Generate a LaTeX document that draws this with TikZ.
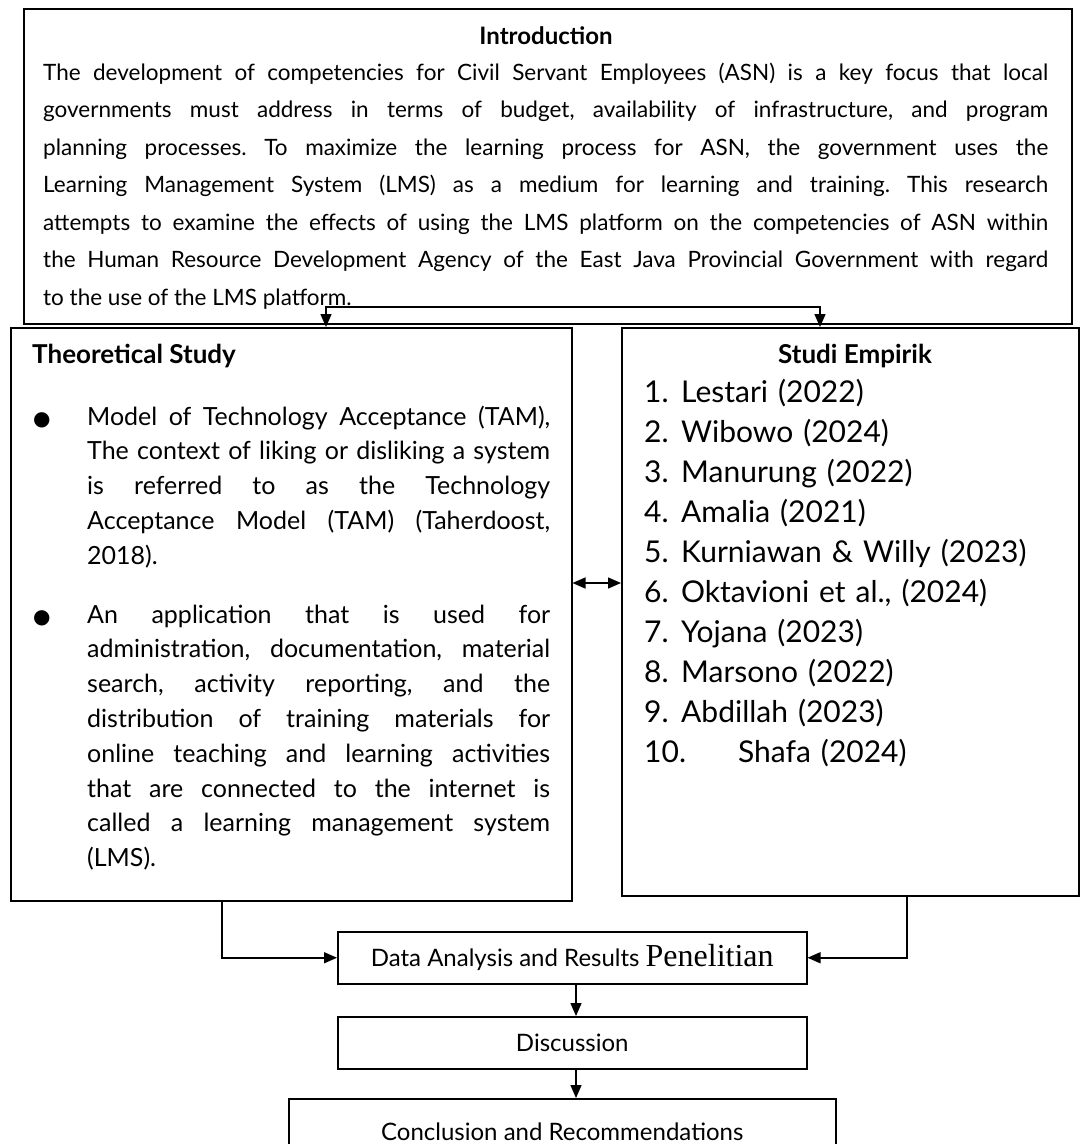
\documentclass[tikz,border=0pt]{standalone}
\usepackage{fontspec}
\setmainfont{Lato}
\newfontfamily\serifpen{Liberation Serif}
\newfontfamily\dejavu{DejaVu Sans}
\usetikzlibrary{arrows.meta}
\newcommand{\mybul}{{\dejavu\fontsize{20}{20}\selectfont ●}}
\frenchspacing
\begin{document}
\begin{tikzpicture}[x=1pt,y=-1pt,
  box/.style={draw, rectangle, line width=1.5pt, inner sep=0pt, anchor=north west},
  txt/.style={inner sep=0pt, anchor=base west},
  arr/.style={-{Triangle[length=13pt,width=11pt]}, line width=1.5pt},
  dbl/.style={{Triangle[length=13pt,width=11pt]}-{Triangle[length=13pt,width=11pt]}, line width=1.5pt},
  ttl/.style={inner sep=0pt, font=\bfseries\fontsize{26}{30}\selectfont},
  smallbox/.style={box, font=\fontsize{24}{28}\selectfont, align=center}
]
\useasboundingbox (0,0) rectangle (1080,1144);

% boxes
\node[box, minimum width=1048pt, minimum height=315pt] (intro) at (23,8) {};
\node[box, minimum width=561pt, minimum height=573pt] (theo) at (10,327) {};
\node[box, minimum width=457pt, minimum height=568pt] (emp) at (621,327) {};

% intro
\node[ttl, font=\bfseries\fontsize{24}{28}\selectfont, anchor=base] (introtitle) at (546,44) {Introduction};
\node[txt, text width=1005pt, align=justify, font=\fontsize{22.5}{37.5}\selectfont\frenchspacing] (introtext) at (43,80)
{The development of competencies for Civil Servant Employees (ASN) is a key focus that local\linebreak
governments must address in terms of budget, availability of infrastructure, and program\linebreak
planning processes. To maximize the learning process for ASN, the government uses the\linebreak
Learning Management System (LMS) as a medium for learning and training. This research\linebreak
attempts to examine the effects of using the LMS platform on the competencies of ASN within\linebreak
the Human Resource Development Agency of the East Java Provincial Government with regard\linebreak
to the use of the LMS platform.};

% theoretical study
\node[ttl, anchor=base west] (theotitle) at (32,363) {Theoretical Study};
\node[txt, text width=463pt, align=justify, font=\fontsize{25}{34.8}\selectfont\frenchspacing] (bone) at (87,425)
{\llap{\makebox[54pt][l]{\mybul}}Model of Technology Acceptance (TAM),\linebreak
The context of liking or disliking a system\linebreak
is referred to as the Technology\linebreak
Acceptance Model (TAM) (Taherdoost,\linebreak
2018).};
\node[txt, text width=463pt, align=justify, font=\fontsize{25}{34.8}\selectfont\frenchspacing] (btwo) at (87,623)
{\llap{\makebox[54pt][l]{\mybul}}An application that is used for\linebreak
administration, documentation, material\linebreak
search, activity reporting, and the\linebreak
distribution of training materials for\linebreak
online teaching and learning activities\linebreak
that are connected to the internet is\linebreak
called a learning management system\linebreak
(LMS).};

% empirical study
\node[ttl, anchor=base] (emptitle) at (855,363) {Studi Empirik};
\node[txt, text width=430pt, align=left, font=\fontsize{30}{40}\selectfont\frenchspacing] (emplist) at (644,402)
{\makebox[37pt][l]{1.}Lestari (2022)\\
\makebox[37pt][l]{2.}Wibowo (2024)\\
\makebox[37pt][l]{3.}Manurung (2022)\\
\makebox[37pt][l]{4.}Amalia (2021)\\
\makebox[37pt][l]{5.}Kurniawan \& Willy (2023)\\
\makebox[37pt][l]{6.}Oktavioni et al., (2024)\\
\makebox[37pt][l]{7.}Yojana (2023)\\
\makebox[37pt][l]{8.}Marsono (2022)\\
\makebox[37pt][l]{9.}Abdillah (2023)\\
\makebox[94pt][l]{10.}Shafa (2024)};

% lower boxes
\node[smallbox, minimum width=469pt, minimum height=52pt] (data) at (337,931)
{Data Analysis and Results {\serifpen\fontsize{32}{32}\selectfont Penelitian}};
\node[smallbox, minimum width=469pt, minimum height=52pt] (disc) at (337,1016) {Discussion};
\node[smallbox, minimum width=547pt, minimum height=66pt] (conc) at (288,1098) {Conclusion and Recommendations};

% connectors
\coordinate (tl) at (326,307);
\coordinate (tr) at (820,307);
\draw[dbl] (theo.north -| tl) -- (tl) -- (tr) -- (emp.north -| tr);
\coordinate (da) at (0,583);
\draw[dbl] (theo.east |- da) -- (emp.west |- da);
\coordinate (bl) at (222,0);
\coordinate (br) at (907,0);
\draw[arr] (theo.south -| bl) |- (data.west);
\draw[arr] (emp.south -| br) |- (data.east);
\coordinate (ax) at (576,0);
\draw[arr] (data.south -| ax) -- (disc.north -| ax);
\draw[arr] (disc.south -| ax) -- (conc.north -| ax);
\end{tikzpicture}
\end{document}
